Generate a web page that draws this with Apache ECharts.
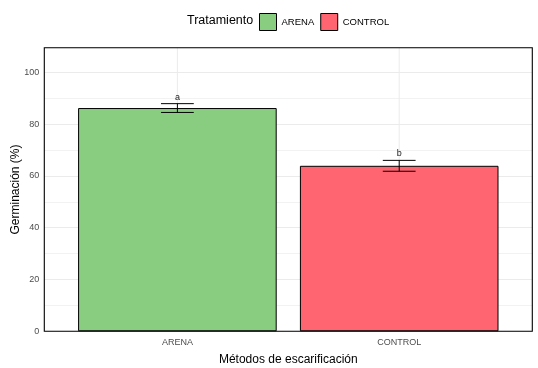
<!DOCTYPE html>
<html><head><meta charset="utf-8">
<script src="https://cdn.jsdelivr.net/npm/echarts@6/dist/echarts.min.js"></script>
<style>html,body{margin:0;padding:0;background:#fff}#c{width:538px;height:368px}</style>
</head><body><div id="c"></div>
<script>
const categories = ['ARENA', 'CONTROL'];
const means = [86.2, 63.9];
const errs = [1.7, 2.1];
const letters = ['a', 'b'];
const colors = ['#88CD80', '#FF6571'];
const yTicks = [0, 20, 40, 60, 80, 100];

const chart = echarts.init(document.getElementById('c'), null, {renderer: 'canvas'});
const barSeries = categories.map((c, i) => ({
  name: c, type: 'bar', xAxisIndex: 0, yAxisIndex: 0,
  data: [[i + 1, means[i]]], barWidth: 198.6, barGap: '-100%',
  itemStyle: {color: colors[i], borderColor: '#000', borderWidth: 1},
  z: 3
}));
const errData = categories.map((c, i) => [i + 1, means[i] - errs[i], means[i] + errs[i], letters[i]]);
chart.setOption({
  animation: false,
  grid: {left: 44.3, right: 5.7, top: 47.7, bottom: 36.7, show: true, borderColor: '#000', borderWidth: 1.1, z: 10,
    containLabel: false, outerBoundsMode: 'none'},
  textStyle: {fontFamily: 'Liberation Sans, Arial, sans-serif'},
  graphic: [{type: 'text', left: 187, top: 14, style: {text: 'Tratamiento', fontSize: 12.5, fill: '#000', fontFamily: 'Liberation Sans, Arial'}}],
  legend: {left: 254, top: 8, itemWidth: 17, itemHeight: 17, itemGap: 6, data: categories,
    itemStyle: {borderWidth: 1, borderColor: '#000'},
    textStyle: {fontSize: 9.5, color: '#000'}, icon: 'rect'},
  xAxis: {type: 'value', min: 0.4, max: 2.6, splitLine: {show: false}, axisTick: {show: false},
    axisLine: {show: false},
    axisLabel: {customValues: [1, 2], formatter: v => categories[Math.round(v) - 1] || '', color: '#4D4D4D', fontSize: 9, margin: 7},
    name: 'Métodos de escarificación', nameLocation: 'middle', nameGap: 22,
    nameTextStyle: {fontSize: 12, color: '#000'}},
  yAxis: {type: 'value', min: 0, max: 109.5, interval: 20, axisLine: {show: false}, axisTick: {show: false},
    axisLabel: {color: '#4D4D4D', fontSize: 9, margin: 5, showMaxLabel: false,
      formatter: v => yTicks.includes(v) ? String(v) : ''},
    splitLine: {lineStyle: {color: '#EBEBEB', width: 1}},
    minorTick: {show: false, splitNumber: 2}, minorSplitLine: {show: true, lineStyle: {color: '#F2F2F2', width: 1}},
    name: 'Germinación (%)', nameLocation: 'middle', nameGap: 23, nameRotate: 90, nameMoveOverlap: false,
    nameTextStyle: {fontSize: 12, color: '#000'}},
  series: [
    {type: 'custom', z: 1, silent: true, data: categories.map((c, i) => [i + 1]), renderItem: (params, api) => {
      const top = api.coord([api.value(0), 109.5]);
      const bot = api.coord([api.value(0), 0]);
      return {type: 'line', shape: {x1: top[0], y1: top[1], x2: bot[0], y2: bot[1]}, style: {stroke: '#EBEBEB', lineWidth: 1}};
    }},
    ...barSeries,
    {type: 'custom', z: 5, data: errData, renderItem: (params, api) => {
      const x = api.value(0);
      const lo = api.coord([x, api.value(1)]);
      const hi = api.coord([x, api.value(2)]);
      const w = 16.4;
      const ls = {stroke: '#000', lineWidth: 1};
      return {type: 'group', children: [
        {type: 'line', shape: {x1: lo[0], y1: lo[1], x2: hi[0], y2: hi[1]}, style: ls},
        {type: 'line', shape: {x1: lo[0] - w, y1: lo[1], x2: lo[0] + w, y2: lo[1]}, style: ls},
        {type: 'line', shape: {x1: hi[0] - w, y1: hi[1], x2: hi[0] + w, y2: hi[1]}, style: ls},
        {type: 'text', style: {text: errData[params.dataIndex][3], x: hi[0], y: hi[1] - 6.5,
          align: 'center', verticalAlign: 'middle', fontSize: 9, fill: '#222', fontFamily: 'Liberation Sans, Arial'}}
      ]};
    }}
  ]
});
</script></body></html>
